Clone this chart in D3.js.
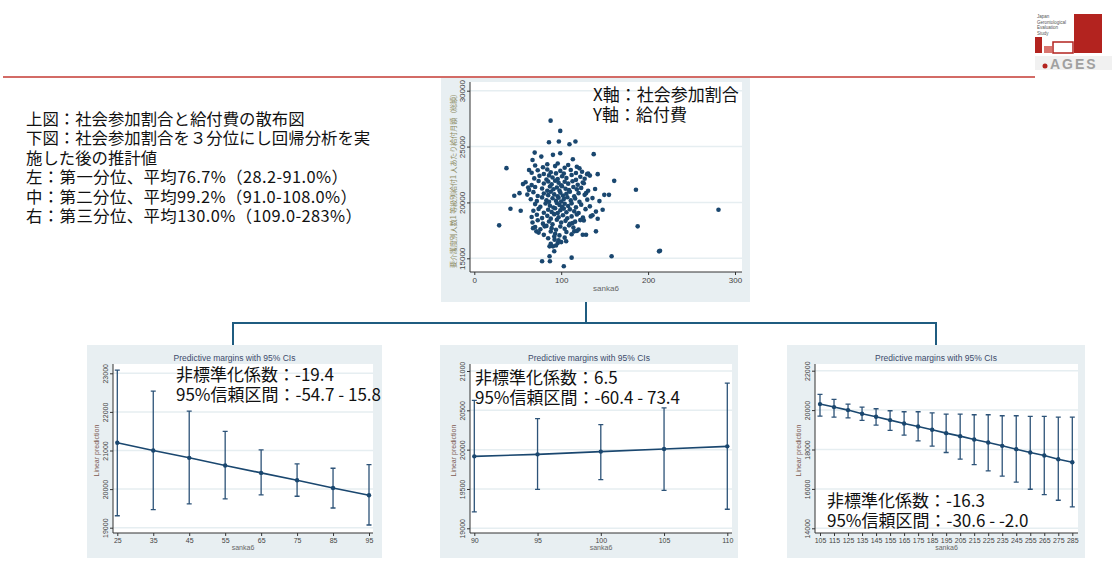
<!DOCTYPE html>
<html>
<head>
<meta charset="utf-8">
<script src="https://cdn.jsdelivr.net/npm/d3@7"></script>
<style>
body { margin: 0; background: #fff; }
svg { display: block; }
</style>
</head>
<body>
<div id="slide"></div>
<script>
var width = 1113;
var height = 569;

// left-hand notes
var notes = [
    "上図：社会参加割合と給付費の散布図",
    "下図：社会参加割合を３分位にし回帰分析を実",
    "施した後の推計値",
    "左：第一分位、平均76.7%（28.2-91.0%）",
    "中：第二分位、平均99.2%（91.0-108.0%）",
    "右：第三分位、平均130.0%（109.0-283%）"
];
// rendered widths of the note lines (px), 0 = natural
var noteWidths = [0, 0, 0, 322, 331, 336];

// scatter: [sanka6, 給付費]
var scatterPoints = [
    [87.8,27320],[98.9,26400],[85.9,25390],[97.3,25450],[109.5,25210],[116.4,25450],[137.4,24320],
    [37,23070],[69.5,24460],[77.1,24100],[90.5,24260],[98.9,24400],[113.4,23870],[67,23800],[63,22900],
    [56,21640],[62,21340],[52,20830],[46,20600],[41.6,19430],[53.4,19260],[28.6,17950],[161,21930],
    [186,21130],[188,17860],[281,19350],[212.6,15620],[213.7,15680],[158,15180],[112,15060],[103,14290],
    [78,14730],[87,14730],[86.6,15180],[92,15630],[105.7,16520],[140,17410],[142,18540],[147.7,19350],
    [155,20680],[149.6,20680],[142,22530],[129.8,22530],[124.8,21790],[128.6,20830],[136,20390],
    [134,18750],[126,18390],[124.8,17110],[128.6,17110],[115,17410],[113,18150],[81,17860],[71.4,17410],
    [67.6,17700],[92.4,16670],[96,16370],[90.5,16070],[86.6,16070],
    [70,23300],[79,23150],[84,23420],[93,23250],[96,23480],[104,23100],[108,23350],[118,23200],[121,23050],
    [66,22650],[73,22880],[80,22550],[84,22950],[88,22700],[94,22600],[99,22820],[103,22580],[111,22900],
    [117,22640],[124,22750],[131,22580],
    [69,22150],[75,22380],[83,22050],[86,22420],[90,22230],[96,22100],[101,22350],[106,22180],[112,22450],
    [117,22020],[122,22300],[127,22120],[133,22400],
    [59,21800],[66,21550],[74,21920],[80,21700],[85,21880],[89,21620],[93,21950],[97,21760],[100,21530],
    [104,21850],[108,21680],[113,21900],[119,21580],[126,21720],
    [63,21120],[70,21380],[78,21250],[84,21050],[87,21420],[91,21180],[95,21330],[98,21060],[101,21450],
    [105,21220],[109,21100],[114,21380],[118,21170],[123,21300],[131,21050],[139,21200],
    [61,20700],[68,20920],[73,20580],[80,20800],[85,20650],[88,20950],[92,20720],[96,20540],[99,20880],
    [102,20620],[106,20780],[110,20950],[115,20560],[120,20830],[127,20680],
    [65,20280],[72,20120],[78,20450],[83,20200],[86,20050],[90,20380],[94,20150],[97,20420],[100,20080],
    [103,20300],[107,20460],[111,20180],[116,20350],[121,20050],[130,20250],[144,20120],
    [70,19850],[76,19620],[82,19900],[87,19700],[91,19550],[95,19950],[98,19780],[101,19600],[104,19880],
    [108,19680],[112,19920],[117,19560],[123,19800],[133,19650],
    [68,19250],[74,19420],[80,19080],[85,19350],[89,19150],[93,19480],[96,19050],[99,19300],[103,19450],
    [106,19120],[110,19380],[115,19200],[120,19050],[128,19400],[140,19180],
    [66,18700],[72,18900],[78,18600],[84,18800],[88,18550],[92,18950],[97,18680],[102,18850],[107,18580],
    [112,18750],[118,18920],[125,18650],[136,18850],
    [67,18200],[73,18400],[79,18100],[86,18300],[90,18050],[95,18450],[100,18200],[105,18350],[110,18080],
    [116,18280],[122,18420],
    [70,17800],[76,17600],[83,17900],[89,17700],[94,17550],[99,17850],[104,17650],[109,17950],[114,17750],
    [120,17580],
    [74,17300],[80,17100],[88,17400],[93,17200],[98,17050],[106,17350],[112,17150],[118,17450],
    [85,16800],[92,16950],[97,16600],[104,16850],
    [88,16300],[94,16150],[100,16450]
];
var scatterXTicks = [0, 100, 200, 300];
var scatterYTicks = [15000, 20000, 25000, 30000];

// 第一分位
var leftX    = [25, 35, 45, 55, 65, 75, 85, 95];
var leftPred = [21200, 21000, 20810, 20610, 20420, 20230, 20030, 19840];
var leftLo   = [19310, 19470, 19615, 19745, 19850, 19815, 19510, 19070];
var leftHi   = [23080, 22540, 22020, 21495, 21015, 20655, 20540, 20635];
var leftYTicks = [19000, 20000, 21000, 22000, 23000];

// 第二分位
var midX    = [90, 95, 100, 105, 110];
var midPred = [19915, 19940, 19975, 20008, 20042];
var midLo   = [19208, 19496, 19619, 19483, 19242];
var midHi   = [20627, 20394, 20318, 20530, 20847];
var midYTicks = [19000, 19500, 20000, 20500, 21000];

// 第三分位
var rightX    = [105, 115, 125, 135, 145, 155, 165, 175, 185, 195, 205, 215, 225, 235, 245, 255, 265, 275, 285];
var rightPred = [20305, 20153, 20000, 19814, 19661, 19492, 19322, 19170, 19000, 18831, 18678, 18508, 18356, 18186, 18017, 17847, 17695, 17508, 17356];
var rightLo   = [19695, 19644, 19610, 19475, 19237, 18966, 18729, 18441, 18170, 17847, 17508, 17237, 16915, 16644, 16339, 15983, 15712, 15424, 15085];
var rightHi   = [20797, 20542, 20305, 20153, 20068, 19966, 19915, 19915, 19864, 19797, 19797, 19763, 19763, 19712, 19712, 19678, 19678, 19644, 19644];
var rightYTicks = [14000, 16000, 18000, 20000, 22000];

var navy = "#1a476f";
var panelBg = "#e8eff2";
var gridColor = "#e6eef1";
var tickFont = "'Liberation Sans', Arial, sans-serif";
var jpFont = "'Noto Sans CJK JP', sans-serif";

var svg = d3.select("#slide")
    .append("svg")
    .attr("width", width)
    .attr("height", height);

// header rule
svg.append("line")
    .attr("x1", 3).attr("x2", 1035)
    .attr("y1", 77).attr("y2", 77)
    .attr("stroke", "#c43a33").attr("stroke-width", 1.4);

// logo (rough)
var logo = svg.append("g");
["Japan", "Gerontological", "Evaluation", "Study"].forEach(function(t, i) {
    logo.append("text").attr("x", 1037).attr("y", 18 + i * 5.5)
        .attr("font-size", 4.5).attr("font-family", tickFont).attr("fill", "#555").text(t);
});
logo.append("rect").attr("x", 1074).attr("y", 14).attr("width", 28).attr("height", 39).attr("fill", "#b3231f");
logo.append("rect").attr("x", 1035).attr("y", 37).attr("width", 7).attr("height", 16).attr("fill", "#b3231f");
logo.append("rect").attr("x", 1053).attr("y", 42).attr("width", 20).attr("height", 11).attr("fill", "#fff").attr("stroke", "#b3231f").attr("stroke-width", 1.5);
logo.append("rect").attr("x", 1044).attr("y", 46).attr("width", 8).attr("height", 7).attr("fill", "#d9756f");
logo.append("rect").attr("x", 1035).attr("y", 56).attr("width", 77).attr("height", 14).attr("fill", "#f1f1f1");
logo.append("circle").attr("cx", 1045).attr("cy", 66).attr("r", 2.5).attr("fill", "#b3231f");
logo.append("text").attr("x", 1050).attr("y", 69).attr("font-size", 14).attr("font-weight", "bold")
    .attr("font-family", tickFont).attr("fill", "#a0a0a0").attr("letter-spacing", 2).text("AGES");

// notes
svg.append("g").selectAll("text")
    .data(notes)
    .enter()
    .append("text")
    .attr("x", 26)
    .attr("y", function(d, i) { return 125 + i * 19.4; })
    .attr("font-size", 16.4)
    .attr("font-family", jpFont)
    .attr("fill", "#111")
    .attr("textLength", function(d, i) { return noteWidths[i] || null; })
    .attr("lengthAdjust", "spacing")
    .text(function(d) { return d; });

// connectors
var conn = svg.append("g").attr("stroke", "#1f5c80").attr("stroke-width", 2).attr("fill", "none");
conn.append("path").attr("d", "M586,302V323M233,345V323H936V345");

function axes(g, x, y, plot, xTicks, yTicks, fs) {
    g.append("rect")
        .attr("x", plot.l).attr("y", plot.t)
        .attr("width", plot.r - plot.l).attr("height", plot.b - plot.t)
        .attr("fill", "#fff");
    g.selectAll(".grid")
        .data(yTicks)
        .enter()
        .append("line")
        .attr("x1", plot.l).attr("x2", plot.r)
        .attr("y1", function(d) { return y(d); })
        .attr("y2", function(d) { return y(d); })
        .attr("stroke", gridColor).attr("stroke-width", 1.5);

    var ya = g.append("g")
        .attr("transform", "translate(" + plot.l + ",0)")
        .call(d3.axisLeft(y).tickValues(yTicks).tickSize(3).tickSizeOuter(0).tickFormat(d3.format("d")));
    ya.select(".domain").remove();
    ya.selectAll("line").attr("stroke", "#333");
    ya.selectAll("text")
        .attr("x", 0).attr("y", -5).attr("dy", null)
        .attr("text-anchor", "middle")
        .attr("transform", "rotate(-90)")
        .attr("font-size", fs).attr("font-family", tickFont).attr("fill", "#444");

    var xa = g.append("g")
        .attr("transform", "translate(0," + plot.b + ")")
        .call(d3.axisBottom(x).tickValues(xTicks).tickSize(3).tickSizeOuter(0).tickPadding(2).tickFormat(d3.format("d")));
    xa.select(".domain").remove();
    xa.selectAll("line").attr("stroke", "#333");
    xa.selectAll("text").attr("font-size", fs).attr("font-family", tickFont).attr("fill", "#444");

    g.append("line").attr("x1", plot.l).attr("x2", plot.l).attr("y1", plot.t).attr("y2", plot.b)
        .attr("stroke", "#333").attr("stroke-width", 1);
    g.append("line").attr("x1", plot.l).attr("x2", plot.r).attr("y1", plot.b).attr("y2", plot.b)
        .attr("stroke", "#333").attr("stroke-width", 1);
}

// ---------- scatter ----------
var sp = svg.append("g");
sp.append("rect").attr("x", 441).attr("y", 78).attr("width", 309).attr("height", 224).attr("fill", panelBg);
var sPlot = {l: 470, r: 742, t: 82, b: 272};
var sx = d3.scaleLinear().domain([0, 300]).range([474.3, 735]);
var sy = d3.scaleLinear().domain([15000, 30000]).range([258.3, 90.7]);
axes(sp, sx, sy, sPlot, scatterXTicks, scatterYTicks, 8);

sp.selectAll(".dot")
    .data(scatterPoints)
    .enter()
    .append("circle")
    .attr("cx", function(d) { return sx(d[0]); })
    .attr("cy", function(d) { return sy(d[1]); })
    .attr("r", 2.3)
    .attr("fill", navy);

sp.append("text").attr("x", (sPlot.l + sPlot.r) / 2).attr("y", 291)
    .attr("text-anchor", "middle").attr("font-size", 8).attr("font-family", tickFont)
    .attr("fill", "#666").text("sanka6");
sp.append("text")
    .attr("transform", "translate(456,179) rotate(-90)")
    .attr("text-anchor", "middle").attr("font-size", 7).attr("font-family", jpFont)
    .attr("textLength", 178).attr("lengthAdjust", "spacingAndGlyphs")
    .attr("fill", "#8c8a62")
    .text("要介護度別人数1 等級別給付1 人あたり給付月額（総額）");
sp.append("text").attr("x", 593).attr("y", 101).attr("font-size", 17)
    .attr("font-family", jpFont).attr("fill", "#111").text("X軸：社会参加割合");
sp.append("text").attr("x", 593).attr("y", 121).attr("font-size", 17)
    .attr("font-family", jpFont).attr("fill", "#111").text("Y軸：給付費");

// ---------- margins panels ----------
function marginsPanel(cfg, xs, pred, lo, hi, yTicks, labels) {
    var g = svg.append("g");
    g.append("rect").attr("x", cfg.bg[0]).attr("y", 345).attr("width", cfg.bg[1] - cfg.bg[0]).attr("height", 213).attr("fill", panelBg);
    var x = d3.scaleLinear().domain([xs[0], xs[xs.length - 1]]).range(cfg.xr);
    var y = d3.scaleLinear().domain([yTicks[0], yTicks[yTicks.length - 1]]).range(cfg.yr);
    axes(g, x, y, cfg.plot, xs, yTicks, 7);

    g.append("text").attr("x", (cfg.bg[0] + cfg.bg[1]) / 2).attr("y", 361)
        .attr("text-anchor", "middle").attr("font-size", 8.5).attr("font-family", tickFont)
        .attr("fill", "#3b4a6b").text("Predictive margins with 95% CIs");
    g.append("text").attr("x", (cfg.plot.l + cfg.plot.r) / 2).attr("y", 550)
        .attr("text-anchor", "middle").attr("font-size", 7).attr("font-family", tickFont)
        .attr("fill", "#666").text("sanka6");
    g.append("text")
        .attr("transform", "translate(" + (cfg.plot.l - 14) + "," + ((cfg.plot.t + cfg.plot.b) / 2 + 2) + ") rotate(-90)")
        .attr("text-anchor", "middle").attr("font-size", 7).attr("font-family", tickFont)
        .attr("fill", "#7d5a52").text("Linear prediction");

    var rows = xs.map(function(d, i) { return {x: d, p: pred[i], lo: lo[i], hi: hi[i]}; });

    g.selectAll(".ci")
        .data(rows)
        .enter()
        .append("path")
        .attr("d", function(d) {
            var cx = x(d.x);
            return "M" + cx + "," + y(d.lo) + "V" + y(d.hi) +
                "M" + (cx - 2.5) + "," + y(d.lo) + "H" + (cx + 2.5) +
                "M" + (cx - 2.5) + "," + y(d.hi) + "H" + (cx + 2.5);
        })
        .attr("stroke", "#2d5378").attr("stroke-width", 1.3).attr("fill", "none");

    g.append("path")
        .datum(rows)
        .attr("d", d3.line().x(function(d) { return x(d.x); }).y(function(d) { return y(d.p); }))
        .attr("stroke", navy).attr("stroke-width", 1.6).attr("fill", "none");

    g.selectAll(".pt")
        .data(rows)
        .enter()
        .append("circle")
        .attr("cx", function(d) { return x(d.x); })
        .attr("cy", function(d) { return y(d.p); })
        .attr("r", 2.2)
        .attr("fill", navy);

    g.selectAll(".note")
        .data(labels)
        .enter()
        .append("text")
        .attr("x", cfg.tx)
        .attr("y", function(d, i) { return cfg.ty + i * 19.5; })
        .attr("font-size", 17)
        .attr("font-family", jpFont)
        .attr("fill", "#111")
        .text(function(d) { return d; });
}

marginsPanel({bg: [87, 382], plot: {l: 113, r: 373, t: 364, b: 533}, xr: [117.3, 369], yr: [527.7, 373.3], tx: 176, ty: 381},
    leftX, leftPred, leftLo, leftHi, leftYTicks,
    ["非標準化係数：-19.4", "95%信頼区間：-54.7 - 15.8"]);

marginsPanel({bg: [440, 738], plot: {l: 470, r: 732, t: 364, b: 533}, xr: [474.3, 727.3], yr: [528.3, 371], tx: 475, ty: 384},
    midX, midPred, midLo, midHi, midYTicks,
    ["非標準化係数：6.5", "95%信頼区間：-60.4 - 73.4"]);

marginsPanel({bg: [787, 1085], plot: {l: 815, r: 1078, t: 364, b: 533}, xr: [820, 1072.3], yr: [528.3, 370.7], tx: 827, ty: 507},
    rightX, rightPred, rightLo, rightHi, rightYTicks,
    ["非標準化係数：-16.3", "95%信頼区間：-30.6 - -2.0"]);
</script>
</body>
</html>
